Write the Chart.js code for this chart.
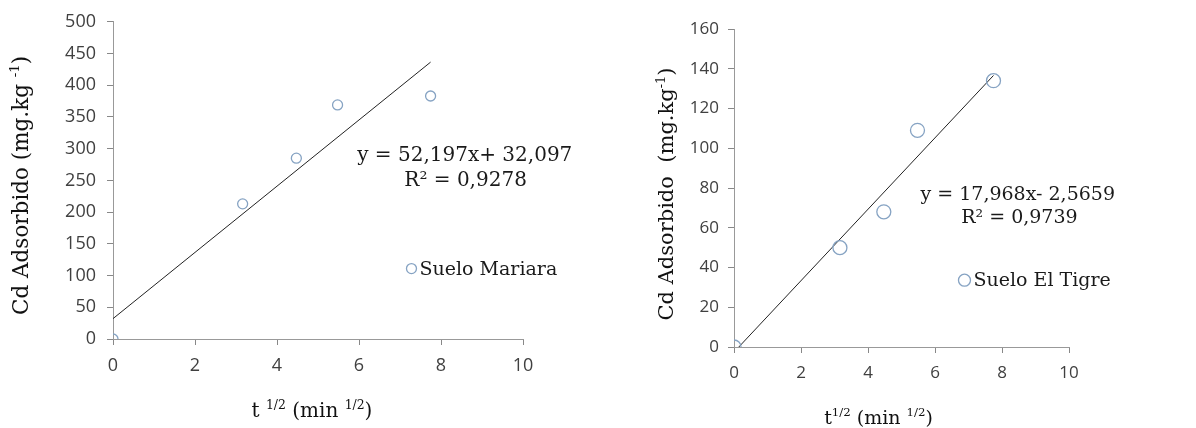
<!DOCTYPE html>
<html>
<head>
<meta charset="utf-8">
<script src="https://cdn.jsdelivr.net/npm/chart.js@4"></script>
<style>
  body { margin: 0; background: #fff; width: 1196px; height: 428px; overflow: hidden; position: relative; }
  .caja { position: absolute; top: 0; height: 428px; }
  #cajaMariara { left: 0; width: 590px; }
  #cajaTigre { left: 590px; width: 606px; }
</style>
</head>
<body>
<div class="caja" id="cajaMariara"><canvas id="grafMariara"></canvas></div>
<div class="caja" id="cajaTigre"><canvas id="grafTigre"></canvas></div>
<script>
// Datos: raiz del tiempo (min^1/2) y Cd adsorbido (mg/kg)
const tiempo = [0, 3.162, 4.472, 5.477, 7.746];
const cdMariara = [0, 213, 285, 369, 383];
const cdTigre = [0, 50, 68, 109, 134];

// Ecuaciones de la linea de tendencia
const pendMariara = 52.197, interMariara = 32.097;
const pendTigre = 17.968, interTigre = -2.5659;
const ecMariara = ['y = 52,197x+ 32,097', 'R² = 0,9278'];
const ecTigre = ['y = 17,968x- 2,5659', 'R² = 0,9739'];

const colorPunto = '#86a3c3';
const serif = '"DejaVu Serif", serif';

// Dibuja texto con partes en superindice
function textoRico(ctx, partes, x, y, size, align) {
    let ancho = 0;
    partes.forEach(p => {
        ctx.font = (p.sup ? size * 0.62 : size) + 'px ' + serif;
        ancho += ctx.measureText(p.t).width;
    });
    let cx = align === 'center' ? x - ancho / 2 : x;
    ctx.textAlign = 'left';
    ctx.textBaseline = 'middle';
    partes.forEach(p => {
        const s = p.sup ? size * 0.62 : size;
        ctx.font = s + 'px ' + serif;
        ctx.fillText(p.t, cx, p.sup ? y - size * 0.3 : y);
        cx += ctx.measureText(p.t).width;
    });
}

const textos = {
    id: 'textos',
    afterDraw(chart, args, o) {
        const { ctx, chartArea, scales: { x, y } } = chart;
        ctx.save();
        ctx.fillStyle = '#1a1a1a';
        // ecuacion
        ctx.font = o.tamEc + 'px ' + serif;
        ctx.textAlign = 'center';
        ctx.textBaseline = 'middle';
        ctx.fillText(o.ecuacion[0], x.getPixelForValue(o.posEc[0]), y.getPixelForValue(o.posEc[1]));
        ctx.fillText(o.ecuacion[1], x.getPixelForValue(o.posR2[0]), y.getPixelForValue(o.posR2[1]));
        // leyenda
        const lx = x.getPixelForValue(o.posLey[0]), ly = y.getPixelForValue(o.posLey[1]);
        ctx.strokeStyle = colorPunto;
        ctx.lineWidth = 1.3;
        ctx.beginPath();
        ctx.arc(lx, ly, o.radioLey, 0, Math.PI * 2);
        ctx.stroke();
        ctx.textAlign = 'left';
        ctx.font = o.tamLey + 'px ' + serif;
        ctx.fillText(o.leyenda, lx + o.radioLey + 3, ly + 1);
        // titulos de ejes
        ctx.fillStyle = '#111';
        textoRico(ctx, o.tituloX, (chartArea.left + chartArea.right) / 2 + o.despX, o.yTituloX, o.tamTit, 'center');
        ctx.translate(o.xTituloY, (chartArea.top + chartArea.bottom) / 2 + o.despY);
        ctx.rotate(-Math.PI / 2);
        textoRico(ctx, o.tituloY, 0, 0, o.tamTitY, 'center');
        ctx.restore();
    }
};

function crearGrafico(id, valores, pend, inter, cfg) {
    const ctx = document.getElementById(id).getContext('2d');
    const xFin = tiempo[tiempo.length - 1];
    return new Chart(ctx, {
        type: 'scatter',
        data: {
            datasets: [{
                label: cfg.textos.leyenda,
                data: tiempo.map((t, i) => ({ x: t, y: valores[i] })),
                borderColor: colorPunto,
                backgroundColor: 'rgba(0,0,0,0)',
                borderWidth: 1.3,
                pointRadius: cfg.radio,
                pointHoverRadius: cfg.radio
            }, {
                type: 'line',
                label: 'tendencia',
                data: [{ x: 0, y: inter }, { x: xFin, y: pend * xFin + inter }],
                borderColor: '#222',
                borderWidth: 1,
                pointRadius: 0
            }]
        },
        options: {
            responsive: true,
            maintainAspectRatio: false,
            animation: false,
            layout: { padding: cfg.padding },
            plugins: { legend: { display: false }, tooltip: { enabled: false }, textos: cfg.textos },
            scales: {
                x: {
                    type: 'linear', min: 0, max: 10,
                    ticks: { stepSize: 2, color: '#404040', font: { family: '"Open Sans"', size: cfg.tamTick }, padding: cfg.padX },
                    grid: { drawOnChartArea: false, drawTicks: true, tickLength: 6, color: '#888', tickColor: '#888' },
                    border: { color: '#999' },
                    afterFit: s => { s.height = cfg.altoX; }
                },
                y: {
                    min: 0, max: cfg.maxY,
                    ticks: { stepSize: cfg.pasoY, color: '#404040', font: { family: '"Open Sans"', size: cfg.tamTick }, padding: cfg.padY },
                    grid: { drawOnChartArea: false, drawTicks: true, tickLength: 6, color: '#888', tickColor: '#888' },
                    border: { color: '#999' },
                    afterFit: s => { s.width = cfg.anchoY; }
                }
            }
        },
        plugins: [textos]
    });
}

crearGrafico('grafMariara', cdMariara, pendMariara, interMariara, {
    radio: 5, maxY: 500, pasoY: 50, tamTick: 18, padX: 10, padY: 11,
    anchoY: 113, altoX: 89, padding: { top: 21, right: 67, bottom: 0, left: 0 },
    textos: {
        ecuacion: ecMariara, tamEc: 20, posEc: [8.58, 289], posR2: [8.6, 250],
        leyenda: 'Suelo Mariara', tamLey: 19, posLey: [7.28, 111], radioLey: 5,
        tituloX: [{ t: 't ' }, { t: '1/2', sup: true }, { t: ' (min ' }, { t: '1/2', sup: true }, { t: ')' }],
        tituloY: [{ t: 'Cd Adsorbido (mg.kg ' }, { t: '-1', sup: true }, { t: ')' }],
        tamTit: 20, tamTitY: 21.5, despX: -6, yTituloX: 412, xTituloY: 22, despY: 5
    }
});

crearGrafico('grafTigre', cdTigre, pendTigre, interTigre, {
    radio: 7, maxY: 160, pasoY: 20, tamTick: 17, padX: 10, padY: 9,
    anchoY: 144, altoX: 81, padding: { top: 29, right: 127, bottom: 0, left: 0 },
    textos: {
        ecuacion: ecTigre, tamEc: 19, posEc: [8.47, 76.5], posR2: [8.52, 65],
        leyenda: 'Suelo El Tigre', tamLey: 19, posLey: [6.88, 33.6], radioLey: 6,
        tituloX: [{ t: 't' }, { t: '1/2', sup: true }, { t: ' (min ' }, { t: '1/2', sup: true }, { t: ')' }],
        tituloY: [{ t: 'Cd Adsorbido  (mg.kg' }, { t: '-1', sup: true }, { t: ')' }],
        tamTit: 19, tamTitY: 21, despX: -23, yTituloX: 419, xTituloY: 78, despY: 6
    }
});
</script>
</body>
</html>
